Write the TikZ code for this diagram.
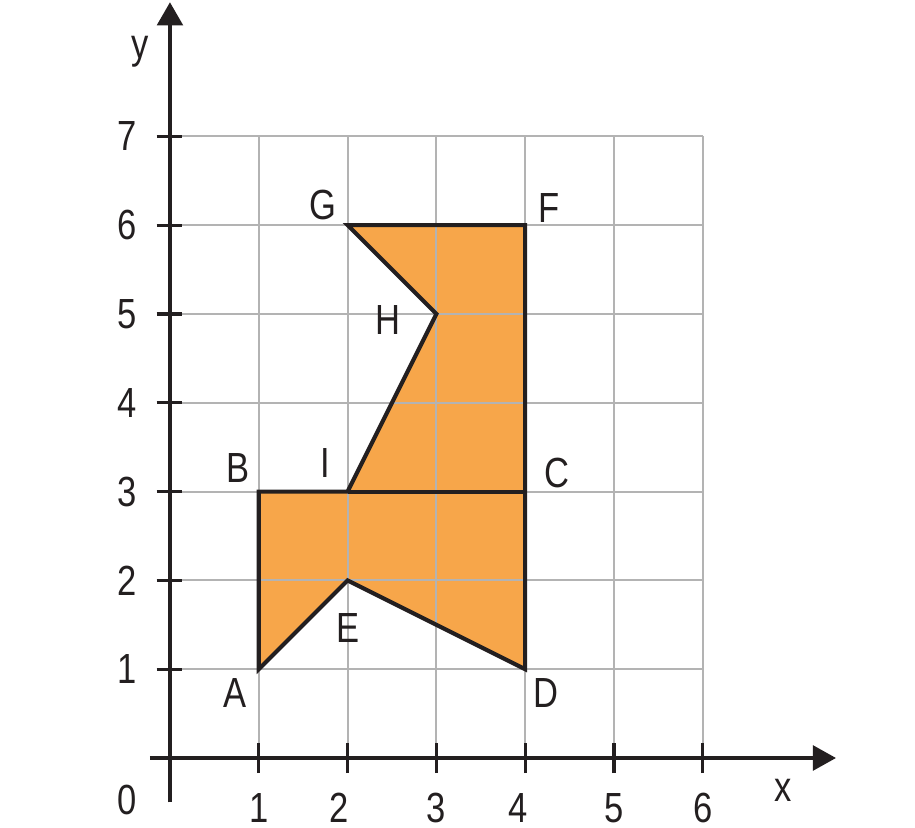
\documentclass[tikz,border=0pt]{standalone}
\usepackage{fontspec}
\setmainfont{Liberation Sans}[FakeStretch=0.82]
\usetikzlibrary{arrows.meta}
\definecolor{fillor}{HTML}{F7A64A}
\definecolor{gridgr}{HTML}{B3B3B3}
\definecolor{inkk}{HTML}{231F20}
\begin{document}
\begin{tikzpicture}[
  lbl/.style={font=\fontsize{13.5}{15}\selectfont, text=inkk, inner sep=0pt},
  axisln/.style={draw=inkk, line width=1.0pt},
  gridln/.style={draw=gridgr, line width=0.6pt},
  shapeln/.style={draw=inkk, line width=1.3pt, line join=miter},
  tickln/.style={draw=inkk, line width=1.0pt}
]
\useasboundingbox (-1.914,-0.788) rectangle (8.390,8.536);
% points
\coordinate (A) at (1,1);
\coordinate (B) at (1,3);
\coordinate (I) at (2,3);
\coordinate (H) at (3,5);
\coordinate (G) at (2,6);
\coordinate (F) at (4,6);
\coordinate (C) at (4,3);
\coordinate (D) at (4,1);
\coordinate (E) at (2,2);
% fill
\fill[fillor] (A) -- (B) -- (I) -- (H) -- (G) -- (F) -- (C) -- (D) -- (E) -- cycle;
% grid
\foreach \i in {1,...,7} \draw[gridln] (0.12,\i) -- (6,\i);
\foreach \i in {1,...,6} \draw[gridln] (\i,7) -- (\i,0.17);
% shape outline
\draw[shapeln] (A) -- (B) -- (I) -- (H) -- (G) -- (F) -- (C) -- (D) -- (E) -- cycle;
\draw[shapeln] (I) -- (C);
% axes
\coordinate (xs) at (-0.225,0);
\coordinate (xe) at (7.5,0);
\coordinate (ys) at (0,-0.5);
\coordinate (ye) at (0,8.51);
\draw[axisln, -{Triangle[length=0.26cm,width=0.28cm]}] (xs) -- (xe);
\draw[axisln, -{Triangle[length=0.26cm,width=0.29cm]}] (ys) -- (ye);
\foreach \i in {1,...,6} \draw[tickln] (\i,-0.17) -- (\i,0.17);
\foreach \i in {1,...,7} \draw[tickln] (-0.15,\i) -- (0.14,\i);
% tick labels
\foreach \i in {1,...,7} \node[lbl] (ty\i) at (-0.48,\i) {\i};
\node[lbl] (t0) at (-0.48,-0.47) {0};
\node[lbl] (tx1) at (1.0,-0.56) {1};
\node[lbl] (tx2) at (1.91,-0.56) {2};
\node[lbl] (tx3) at (3.0,-0.56) {3};
\node[lbl] (tx4) at (3.92,-0.56) {4};
\node[lbl] (tx5) at (5.0,-0.56) {5};
\node[lbl] (tx6) at (6.0,-0.56) {6};
\node[lbl] (xl) at (6.90,-0.36) {x};
\node[lbl] (yl) at (-0.34,7.95) {y};
% point labels
\node[lbl] (lA) at (0.73,0.73) {A};
\node[lbl] (lB) at (0.77,3.27) {B};
\node[lbl] (lC) at (4.36,3.21) {C};
\node[lbl] (lD) at (4.23,0.73) {D};
\node[lbl] (lE) at (2.0,1.46) {E};
\node[lbl] (lF) at (4.27,6.19) {F};
\node[lbl] (lG) at (1.72,6.23) {G};
\node[lbl] (lH) at (2.45,4.93) {H};
\node[lbl] (lI) at (1.75,3.32) {I};
\end{tikzpicture}
\end{document}
